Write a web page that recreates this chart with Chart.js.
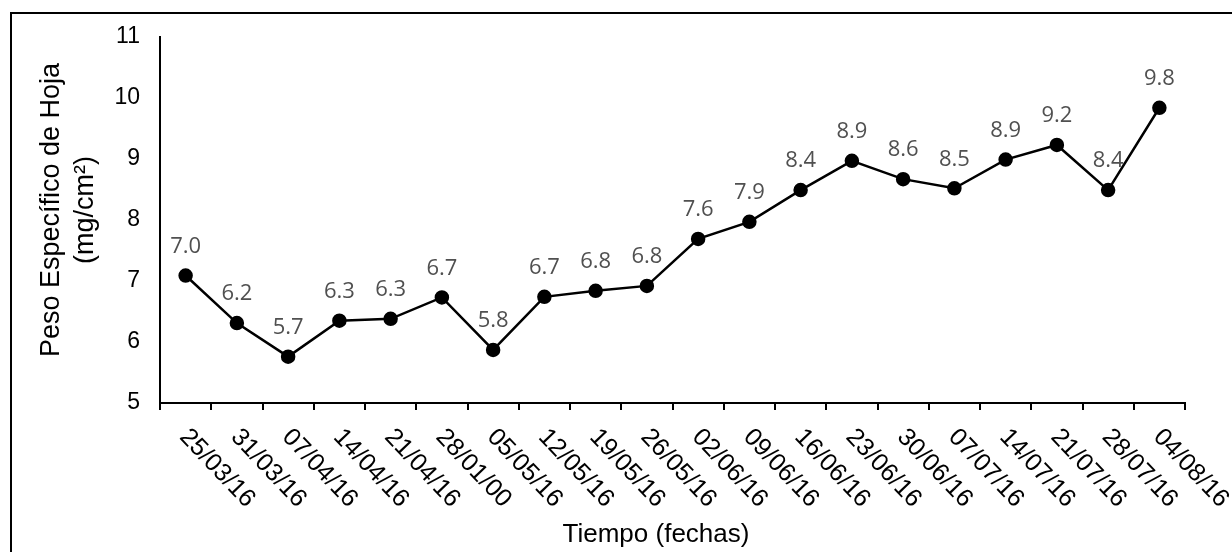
<!DOCTYPE html>
<html>
<head>
<meta charset="utf-8">
<script src="https://cdn.jsdelivr.net/npm/chart.js@4/dist/chart.umd.min.js"></script>
<style>
  html, body { margin: 0; padding: 0; background: #fff; }
  #wrap { position: relative; width: 1232px; height: 552px; }
</style>
</head>
<body>
<div id="wrap"><canvas id="pesoChart"></canvas></div>
<script>
// Datos
const fechas = ['25/03/16', '31/03/16', '07/04/16', '14/04/16', '21/04/16', '28/01/00', '05/05/16',
  '12/05/16', '19/05/16', '26/05/16', '02/06/16', '09/06/16', '16/06/16', '23/06/16', '30/06/16',
  '07/07/16', '14/07/16', '21/07/16', '28/07/16', '04/08/16'];
const pesoEspecifico = [7.09, 6.31, 5.76, 6.35, 6.38, 6.73, 5.87, 6.74, 6.84, 6.92,
  7.69, 7.97, 8.49, 8.97, 8.67, 8.52, 8.99, 9.23, 8.49, 9.84];
const etiquetas = ['7.0', '6.2', '5.7', '6.3', '6.3', '6.7', '5.8', '6.7', '6.8', '6.8',
  '7.6', '7.9', '8.4', '8.9', '8.6', '8.5', '8.9', '9.2', '8.4', '9.8'];
const tituloY = ['Peso Específico de Hoja', '(mg/cm²)'];
const tituloX = 'Tiempo (fechas)';

const ARIAL = '"Liberation Sans", Arial, sans-serif';

// labels, rotated fechas, titles and the frame
const extras = {
  id: 'extras',
  afterDatasetsDraw(chart) {
    const ctx = chart.ctx;
    const meta = chart.getDatasetMeta(0);
    ctx.save();
    ctx.fillStyle = '#505050';
    ctx.font = '22px "Open Sans", "Noto Sans", sans-serif';
    ctx.textAlign = 'center';
    ctx.textBaseline = 'middle';
    meta.data.forEach((pt, i) => {
      ctx.fillText(etiquetas[i], pt.x, pt.y - 29);
    });
    ctx.restore();
  },
  afterDraw(chart) {
    const ctx = chart.ctx;
    const xScale = chart.scales.x;
    ctx.save();
    ctx.fillStyle = '#000';

    // fechas rotated downwards
    ctx.font = '25px ' + ARIAL;
    ctx.textAlign = 'left';
    ctx.textBaseline = 'middle';
    fechas.forEach((f, i) => {
      const x = xScale.getPixelForValue(i) - 2;
      ctx.save();
      ctx.translate(x, xScale.top + 30);
      ctx.rotate(46.5 * Math.PI / 180);
      ctx.fillText(f, 0, 0);
      ctx.restore();
    });

    // x title
    ctx.font = '26px ' + ARIAL;
    ctx.textAlign = 'center';
    ctx.fillText(tituloX, 656, 535);

    // y title (two lines)
    ctx.font = '27px ' + ARIAL;
    ctx.save();
    ctx.translate(0, 210);
    ctx.rotate(-Math.PI / 2);
    ctx.fillText(tituloY[0], 0, 52);
    ctx.fillText(tituloY[1], 0, 86);
    ctx.restore();

    // frame (top and left sides visible)
    ctx.strokeStyle = '#000';
    ctx.lineWidth = 2;
    ctx.beginPath();
    ctx.moveTo(11, 560);
    ctx.lineTo(11, 13);
    ctx.lineTo(1240, 13);
    ctx.stroke();
    ctx.restore();
  }
};

new Chart(document.getElementById('pesoChart'), {
  type: 'line',
  data: {
    labels: fechas,
    datasets: [{
      data: pesoEspecifico,
      borderColor: '#000',
      borderWidth: 2.5,
      backgroundColor: '#000',
      pointBackgroundColor: '#000',
      pointBorderColor: '#000',
      pointRadius: 6,
      pointHoverRadius: 6,
      tension: 0,
      fill: false
    }]
  },
  options: {
    responsive: true,
    maintainAspectRatio: false,
    animation: false,
    events: [],
    layout: { padding: { left: 0, top: 37, right: 47, bottom: 149 } },
    plugins: {
      legend: { display: false },
      tooltip: { enabled: false },
      title: { display: false }
    },
    scales: {
      x: {
        offset: true,
        grid: {
          display: true,
          offset: true,
          drawOnChartArea: false,
          drawTicks: true,
          tickLength: 7,
          color: '#000',
          lineWidth: 2
        },
        border: { display: true, color: '#000', width: 2 },
        ticks: { display: false },
        afterFit(scale) { scale.height = 0; }
      },
      y: {
        min: 5,
        max: 11,
        grid: { display: false, drawTicks: false },
        border: { display: true, color: '#000', width: 2 },
        ticks: {
          stepSize: 1,
          color: '#000',
          padding: 20,
          font: { family: ARIAL, size: 23 }
        },
        afterFit(scale) { scale.width = 160; }
      }
    }
  },
  plugins: [extras]
});
</script>
</body>
</html>
